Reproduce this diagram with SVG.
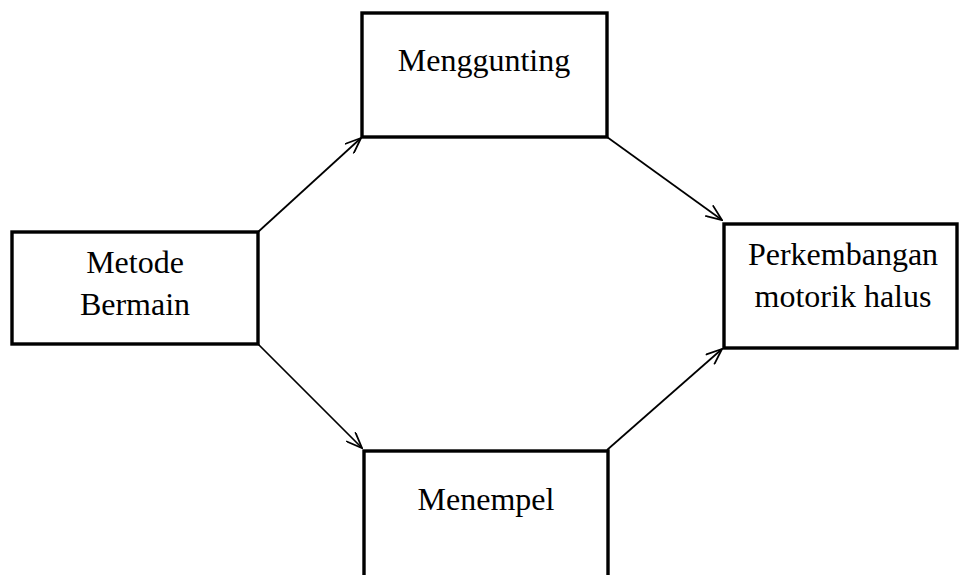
<svg xmlns="http://www.w3.org/2000/svg" width="959" height="575" viewBox="0 0 959 575">
<style>
.box{fill:#fff;stroke:#000;stroke-width:3.4}
.lbl{font-family:"Liberation Serif","Times New Roman",serif;font-size:32px;fill:#000;text-anchor:middle}
.edge{stroke:#000;stroke-width:1.7;fill:none;marker-end:url(#arr)}
</style>
<defs>
<marker id="arr" viewBox="0 0 18 14" refX="17" refY="7" markerWidth="18" markerHeight="14" markerUnits="userSpaceOnUse" orient="auto">
<path d="M1,0.5 L17,7 L1,13.5" fill="none" stroke="#000" stroke-width="1.8"/>
</marker>
</defs>
<rect width="959" height="575" fill="#fff"/>
<g id="connectors">
<line class="edge" x1="258" y1="232" x2="361" y2="138"/>
<line class="edge" x1="607" y1="137" x2="722" y2="220"/>
<line class="edge" x1="258" y1="344" x2="362" y2="448"/>
<line class="edge" x1="607" y1="450" x2="722" y2="349"/>
</g>
<g id="menggunting">
<rect class="box" x="362" y="13" width="245" height="124"/>
<text class="lbl" x="484" y="71">Menggunting</text>
</g>
<g id="metode">
<rect class="box" x="12" y="232" width="246" height="112"/>
<text class="lbl" x="135" y="273">Metode</text>
<text class="lbl" x="135" y="315">Bermain</text>
</g>
<g id="perkembangan">
<rect class="box" x="724" y="224" width="233" height="124"/>
<text class="lbl" x="843" y="265">Perkembangan</text>
<text class="lbl" x="843" y="307">motorik halus</text>
</g>
<g id="menempel">
<rect class="box" x="364" y="451" width="244" height="140"/>
<text class="lbl" x="486" y="510">Menempel</text>
</g>
</svg>
